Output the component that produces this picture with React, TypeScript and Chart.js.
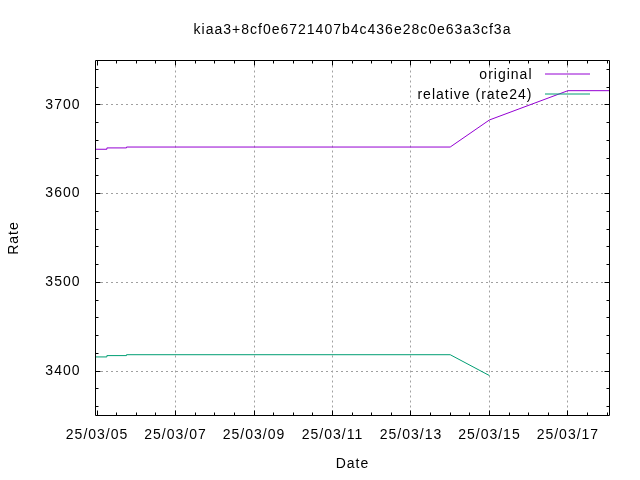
import { useEffect, useRef } from "react";
import { Chart, registerables } from "chart.js";

Chart.register(...registerables);

const chartTitle = "kiaa3+8cf0e6721407b4c436e28c0e63a3cf3a";
const xAxisTitle = "Date";
const yAxisTitle = "Rate";
const seriesLabels = ["original", "relative (rate24)"];
const seriesColors = ["#9400d3", "#009e73"];

const startTime = "2025-03-05T00:00";
const sampleTimes = [
  "2025-03-04T23:00",
  "2025-03-05T06:00",
  "2025-03-05T06:00",
  "2025-03-05T18:00",
  "2025-03-05T18:00",
  "2025-03-14T00:00",
  "2025-03-15T00:00",
  "2025-03-17T00:00",
  "2025-03-18T02:00",
];
const originalRates = [3650, 3650, 3651.5, 3651.5, 3652.5, 3652.5, 3683, 3716, 3716];
const relativeRates = [3416, 3416, 3417.5, 3417.5, 3418.5, 3418.5, 3395, null, null];

const xTickDays = [0, 2, 4, 6, 8, 10, 12];
const xTickLabels = ["25/03/05", "25/03/07", "25/03/09", "25/03/11", "25/03/13", "25/03/15", "25/03/17"];
const yTickValues = [3400, 3500, 3600, 3700];

const xRange = [-0.04, 13.06];
const yRange = [3350, 3750];

const FONT = "'Liberation Sans', Arial, sans-serif";

const toDays = (t: string) => (Date.parse(t + "Z") - Date.parse(startTime + "Z")) / 86400000;

const gnuFrame = {
  id: "gnuFrame",
  beforeUpdate(c: any) {
    c.ctx.letterSpacing = "1px";
  },
  beforeDraw(c: any) {
    c.ctx.letterSpacing = "1px";
  },
  afterDraw(c: any) {
    const { ctx, chartArea: a, scales } = c;
    const xs = scales.x;
    const ys = scales.y;
    const al = (p: number) => Math.round(p - 0.5) + 0.5;
    const L = al(a.left), R = al(a.right), T = al(a.top), B = al(a.bottom);
    ctx.save();
    ctx.strokeStyle = "#000";
    ctx.lineWidth = 1;
    ctx.setLineDash([]);
    ctx.beginPath();
    ctx.rect(L, T, R - L, B - T);
    for (let v = 0; v <= 13.0001; v += 0.5) {
      const px = al(xs.getPixelForValue(v));
      if (px < L || px > R) continue;
      const len = Math.abs(v % 2) < 1e-6 ? 5 : 3;
      ctx.moveTo(px, B);
      ctx.lineTo(px, B - len);
      ctx.moveTo(px, T);
      ctx.lineTo(px, T + len);
    }
    for (let v = 3360; v <= 3740; v += 20) {
      const py = al(ys.getPixelForValue(v));
      const len = v % 100 === 0 ? 5 : 3;
      ctx.moveTo(L, py);
      ctx.lineTo(L + len, py);
      ctx.moveTo(R, py);
      ctx.lineTo(R - len, py);
    }
    ctx.stroke();

    ctx.letterSpacing = "1px";
    ctx.font = `14px ${FONT}`;
    ctx.textAlign = "right";
    ctx.textBaseline = "middle";
    ctx.fillStyle = "#000";
    c.data.datasets.forEach((ds: any, i: number) => {
      const ly = Math.round(T + 13.5 + i * 20) + 0.5;
      ctx.fillText(ds.label, R - 77, ly + 0.5);
      ctx.strokeStyle = ds.borderColor;
      ctx.beginPath();
      ctx.moveTo(R - 64.5, ly - 0.5);
      ctx.lineTo(R - 19.5, ly - 0.5);
      ctx.stroke();
    });
    ctx.restore();
  },
};

export default function App() {
  const ref = useRef<HTMLCanvasElement | null>(null);

  useEffect(() => {
    document.body.style.margin = "0";
    if (!ref.current) return;
    const font = { family: FONT, size: 14, weight: "normal" as const };
    const xVals = sampleTimes.map(toDays);
    const chart = new Chart(ref.current, {
      type: "line",
      data: {
        datasets: [
          {
            label: seriesLabels[0],
            data: xVals.map((x, i) => ({ x, y: originalRates[i] })),
            borderColor: seriesColors[0],
            borderWidth: 1,
            pointRadius: 0,
            tension: 0,
            fill: false,
          },
          {
            label: seriesLabels[1],
            data: xVals.map((x, i) => ({ x, y: relativeRates[i] as any })),
            borderColor: seriesColors[1],
            borderWidth: 1,
            pointRadius: 0,
            tension: 0,
            fill: false,
            spanGaps: false,
          },
        ],
      },
      options: {
        animation: false,
        responsive: false,
        devicePixelRatio: 1,
        color: "#000",
        layout: { padding: { left: 0, right: 30.5, top: 0, bottom: 0 } },
        plugins: {
          legend: { display: false },
          tooltip: { enabled: false },
          title: {
            display: true,
            text: chartTitle,
            fullSize: false,
            color: "#000",
            font,
            padding: { top: 21.85, bottom: 21.85 },
          },
        },
        scales: {
          x: {
            type: "linear",
            min: xRange[0],
            max: xRange[1],
            afterBuildTicks: (s: any) => {
              s.ticks = xTickDays.map((value) => ({ value }));
            },
            afterFit: (s: any) => {
              s.height = 64.5;
            },
            grid: {
              color: (ctx: any) => (ctx.tick && Math.abs(ctx.tick.value) < 1e-6 ? "rgba(0,0,0,0)" : "#a0a0a0"),
              lineWidth: 1,
              drawTicks: false,
            },
            border: { display: false, dash: [2, 3] },
            ticks: {
              autoSkip: false,
              maxRotation: 0,
              padding: 11,
              color: "#000",
              font,
              callback: (_v: any, i: number) => xTickLabels[i] ?? "",
            },
            title: {
              display: true,
              text: xAxisTitle,
              color: "#000",
              font,
              padding: { top: 0, bottom: 7.6 },
            },
          },
          y: {
            type: "linear",
            min: yRange[0],
            max: yRange[1],
            afterBuildTicks: (s: any) => {
              s.ticks = yTickValues.map((value) => ({ value }));
            },
            afterFit: (s: any) => {
              s.width = 95.5;
            },
            grid: { color: "#a0a0a0", lineWidth: 1, drawTicks: false },
            border: { display: false, dash: [2, 3] },
            ticks: {
              autoSkip: false,
              padding: 15,
              color: "#000",
              font,
              callback: (v: any) => String(v),
            },
            title: {
              display: true,
              text: yAxisTitle,
              color: "#000",
              font,
              padding: { top: 5.6, bottom: 0 },
            },
          },
        },
      },
      plugins: [gnuFrame],
    });
    return () => chart.destroy();
  }, []);

  return (
    <div style={{ position: "absolute", left: 0, top: 0, width: 640, height: 480, background: "#fff" }}>
      <canvas ref={ref} width={640} height={480} style={{ width: 640, height: 480 }} />
    </div>
  );
}
